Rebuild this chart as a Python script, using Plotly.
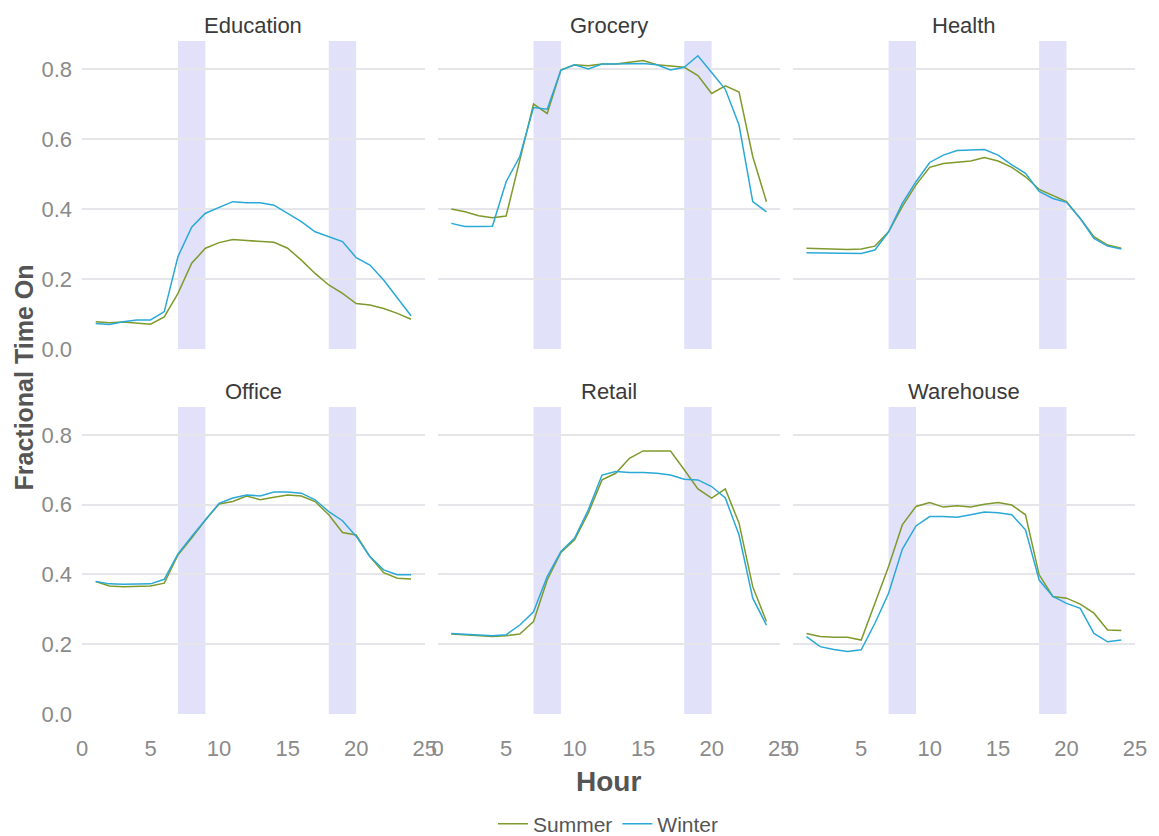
import plotly.graph_objects as go

hours = list(range(1, 25))
panels = ["Education", "Grocery", "Health", "Office", "Retail", "Warehouse"]

education_summer = [0.078, 0.075, 0.077, 0.073, 0.071, 0.092, 0.159, 0.245, 0.288, 0.304, 0.313, 0.310,
                    0.308, 0.305, 0.288, 0.254, 0.216, 0.183, 0.159, 0.130, 0.126, 0.116, 0.102, 0.085]
education_winter = [0.073, 0.070, 0.078, 0.083, 0.083, 0.107, 0.264, 0.348, 0.388, 0.405, 0.421, 0.418,
                    0.418, 0.411, 0.388, 0.364, 0.335, 0.321, 0.307, 0.261, 0.240, 0.197, 0.145, 0.095]
grocery_summer = [0.400, 0.392, 0.381, 0.375, 0.380, 0.540, 0.700, 0.673, 0.797, 0.812, 0.809, 0.814,
                  0.814, 0.819, 0.824, 0.812, 0.809, 0.805, 0.781, 0.730, 0.752, 0.734, 0.550, 0.421]
grocery_winter = [0.359, 0.350, 0.350, 0.351, 0.478, 0.550, 0.690, 0.685, 0.797, 0.812, 0.800, 0.814,
                  0.814, 0.814, 0.816, 0.812, 0.797, 0.805, 0.838, 0.790, 0.742, 0.640, 0.421, 0.392]
health_summer = [0.288, 0.286, 0.286, 0.284, 0.286, 0.294, 0.335, 0.407, 0.469, 0.519, 0.530, 0.533,
                 0.537, 0.547, 0.537, 0.519, 0.492, 0.456, 0.438, 0.421, 0.373, 0.321, 0.297, 0.288]
health_winter = [0.275, 0.275, 0.275, 0.273, 0.273, 0.283, 0.335, 0.416, 0.478, 0.533, 0.554, 0.567,
                 0.569, 0.570, 0.554, 0.526, 0.502, 0.450, 0.430, 0.419, 0.373, 0.316, 0.294, 0.286]
office_summer = [0.380, 0.367, 0.365, 0.365, 0.367, 0.375, 0.456, 0.504, 0.556, 0.602, 0.609, 0.625,
                 0.614, 0.621, 0.628, 0.625, 0.609, 0.571, 0.520, 0.513, 0.451, 0.405, 0.389, 0.387]
office_winter = [0.380, 0.373, 0.372, 0.372, 0.373, 0.386, 0.459, 0.509, 0.558, 0.604, 0.619, 0.628,
                 0.625, 0.636, 0.636, 0.633, 0.614, 0.580, 0.554, 0.509, 0.451, 0.413, 0.399, 0.399]
retail_summer = [0.229, 0.227, 0.225, 0.222, 0.224, 0.229, 0.265, 0.384, 0.463, 0.499, 0.576, 0.671,
                 0.690, 0.733, 0.754, 0.754, 0.754, 0.700, 0.645, 0.619, 0.645, 0.547, 0.365, 0.265]
retail_winter = [0.231, 0.228, 0.227, 0.224, 0.227, 0.255, 0.293, 0.394, 0.466, 0.504, 0.585, 0.685,
                 0.695, 0.692, 0.692, 0.690, 0.685, 0.673, 0.671, 0.652, 0.619, 0.513, 0.332, 0.255]
warehouse_summer = [0.231, 0.222, 0.220, 0.220, 0.212, 0.317, 0.423, 0.542, 0.595, 0.606, 0.593, 0.597,
                    0.593, 0.601, 0.606, 0.599, 0.571, 0.399, 0.337, 0.332, 0.315, 0.289, 0.241, 0.239]
warehouse_winter = [0.222, 0.193, 0.185, 0.179, 0.184, 0.260, 0.346, 0.472, 0.539, 0.566, 0.566, 0.564,
                    0.571, 0.579, 0.577, 0.571, 0.528, 0.384, 0.337, 0.317, 0.303, 0.231, 0.207, 0.212]

summer_series = [education_summer, grocery_summer, health_summer, office_summer, retail_summer, warehouse_summer]
winter_series = [education_winter, grocery_winter, health_winter, office_winter, retail_winter, warehouse_winter]

peak_windows = [(7, 9), (18, 20)]
x_ticks = [0, 5, 10, 15, 20, 25]
y_ticks = [0.0, 0.2, 0.4, 0.6, 0.8]

SUMMER_COLOR = "#7f9a2c"
WINTER_COLOR = "#2aa9d8"
BAND_COLOR = "rgb(225,225,250)"
FONT = "Liberation Sans, Arial, sans-serif"
TICK_FONT = dict(size=22, color="#8a8a8a", family=FONT)

x_domains = [[0.0, 0.3255], [0.3377, 0.663], [0.675, 1.0]]
y_domains = [[0.5423, 1.0], [0.0, 0.4562]]

fig = go.Figure()
layout = {}
for i, name in enumerate(panels):
    r, c = divmod(i, 3)
    n = i + 1
    xa = "x" if n == 1 else f"x{n}"
    ya = "y" if n == 1 else f"y{n}"
    for xs, xe in peak_windows:
        fig.add_shape(type="rect", xref=xa, yref=f"{ya} domain", x0=xs, x1=xe, y0=0, y1=1,
                      fillcolor=BAND_COLOR, line_width=0, layer="below")
    fig.add_trace(go.Scatter(x=hours, y=summer_series[i], mode="lines", name="Summer",
                             line=dict(color=SUMMER_COLOR, width=1.5), xaxis=xa, yaxis=ya,
                             showlegend=(i == 0), legendgroup="Summer"))
    fig.add_trace(go.Scatter(x=hours, y=winter_series[i], mode="lines", name="Winter",
                             line=dict(color=WINTER_COLOR, width=1.5), xaxis=xa, yaxis=ya,
                             showlegend=(i == 0), legendgroup="Winter"))
    key_x = "xaxis" if n == 1 else f"xaxis{n}"
    key_y = "yaxis" if n == 1 else f"yaxis{n}"
    layout[key_x] = dict(domain=x_domains[c], anchor=ya, range=[0, 25], tickvals=x_ticks,
                         showticklabels=(r == 1), showgrid=False, zeroline=False, showline=False,
                         ticks="", ticklabelstandoff=19, tickfont=TICK_FONT)
    layout[key_y] = dict(domain=y_domains[r], anchor=xa, range=[0, 0.88], tickvals=y_ticks,
                         tickformat=".1f", showticklabels=(c == 0), showgrid=True,
                         gridcolor="#e6e6ea", gridwidth=1.5, zeroline=False, showline=False,
                         ticks="", ticklabelstandoff=9, tickfont=TICK_FONT)

annotations = []
for i, name in enumerate(panels):
    r, c = divmod(i, 3)
    annotations.append(dict(text=name, x=sum(x_domains[c]) / 2, y=y_domains[r][1], xref="paper", yref="paper",
                            xanchor="center", yanchor="bottom", yshift=1, showarrow=False,
                            font=dict(size=22, color="#3a3a3a", family=FONT)))
annotations.append(dict(text="<b>Hour</b>", x=0.5, y=0, xref="paper", yref="paper", xanchor="center",
                        yanchor="middle", yshift=-67, showarrow=False,
                        font=dict(size=28, color="#555555", family=FONT)))
annotations.append(dict(text="<b>Fractional Time On</b>", x=0, y=0.5, xref="paper", yref="paper",
                        xanchor="center", yanchor="middle", xshift=-59, textangle=-90, showarrow=False,
                        font=dict(size=25, color="#555555", family=FONT)))

fig.update_layout(
    width=1151, height=828,
    margin=dict(l=74, r=17, t=33, b=122),
    paper_bgcolor="white", plot_bgcolor="white",
    annotations=annotations,
    showlegend=True,
    legend=dict(orientation="h", x=0.5, xanchor="center", yref="container", y=0.0145, yanchor="middle",
                font=dict(size=21, color="#555555", family=FONT), tracegroupgap=0),
    **layout,
)

fig.write_html("out.html")
